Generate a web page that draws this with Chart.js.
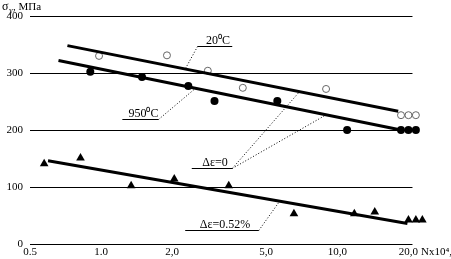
<!DOCTYPE html>
<html>
<head>
<meta charset="utf-8">
<script src="https://cdn.jsdelivr.net/npm/chart.js@4.4.0/dist/chart.umd.min.js"></script>
<style>
  html, body { margin: 0; padding: 0; background: #fff; }
  #wrap { width: 451px; height: 259px; }
</style>
</head>
<body>
<div id="wrap"><canvas id="grfk"></canvas></div>
<script>
// x axis ticks (log scale, N x 10^4)
const xTicks = [0.5, 1, 2, 5, 10, 20];
const xTickLabels = ['0.5', '1.0', '2,0', '5,0', '10,0', '20,0'];
const yTicks = [0, 100, 200, 300, 400];
const gridEndX = 20.8; // horizontal rules stop here, markers go a bit further

// 20 C, open circles
const n20 = [0.98, 1.9, 2.83, 3.98, 8.96, 18.6, 20, 21.5];
const s20 = [330, 331, 304, 274, 272, 226, 226, 226];
// 950 C, filled circles
const n950 = [0.9, 1.49, 2.34, 3.02, 5.57, 11.0, 18.6, 20, 21.5];
const s950 = [302, 293, 277, 251, 251, 200, 200, 200, 200];
// delta eps = 0.52 %, triangles
const nTri = [0.574, 0.818, 1.34, 2.04, 3.47, 6.55, 11.8, 14.4, 20, 21.5, 22.9];
const sTri = [141, 151, 102, 114, 102, 53, 53, 56, 42, 42, 42];

// fitted lines (end points)
const fit20X = [0.72, 18.1], fit20Y = [348, 233];
const fit950X = [0.66, 18.6], fit950Y = [322, 200];
const fitTriX = [0.596, 19.8], fitTriY = [146, 36];

// callouts: underline from x0 to x1 at value y, leaders to points on fitted lines
const callouts = [
    { text: '20⁰C', x0: 2.56, x1: 3.59, y: 348, to: [['20', 2.27]] },
    { text: '950⁰C', x0: 1.23, x1: 1.75, y: 219, to: [['950', 2.51]] },
    { text: 'Δε=0', x0: 2.42, x1: 3.59, y: 134, to: [['20', 6.92], ['950', 8.97]] },
    { text: 'Δε=0.52%', x0: 2.27, x1: 4.65, y: 24, to: [['tri', 5.70]] }
];

const fits = { '20': [fit20X, fit20Y], '950': [fit950X, fit950Y], 'tri': [fitTriX, fitTriY] };
function fitAt(name, x) {
    const [fx, fy] = fits[name];
    return fy[0] + (fy[1] - fy[0]) * Math.log(x / fx[0]) / Math.log(fx[1] / fx[0]);
}

const pts = (xs, ys) => xs.map((x, i) => ({ x: x, y: ys[i] }));
const FONT = 'Liberation Serif, Times New Roman, serif';

// horizontal rules, shorter than the chart area
const gridPlugin = {
    id: 'rules',
    beforeDatasetsDraw(chart) {
        const ctx = chart.ctx, xs = chart.scales.x, ys = chart.scales.y;
        const x0 = xs.left, x1 = xs.getPixelForValue(gridEndX);
        ctx.save();
        ctx.strokeStyle = '#000';
        ctx.lineWidth = 1;
        yTicks.forEach(v => {
            const py = Math.round(ys.getPixelForValue(v)) + 0.5;
            ctx.beginPath();
            ctx.moveTo(x0, py); ctx.lineTo(x1, py);
            ctx.stroke();
        });
        ctx.restore();
    }
};

const annPlugin = {
    id: 'ann',
    afterDatasetsDraw(chart) {
        const ctx = chart.ctx, xs = chart.scales.x, ys = chart.scales.y;
        ctx.save();
        ctx.fillStyle = '#000';
        ctx.strokeStyle = '#000';
        ctx.font = '12px ' + FONT;
        callouts.forEach(c => {
            const a = xs.getPixelForValue(c.x0), b = xs.getPixelForValue(c.x1);
            const py = Math.round(ys.getPixelForValue(c.y)) + 0.5;
            ctx.lineWidth = 1;
            ctx.setLineDash([]);
            ctx.beginPath();
            ctx.moveTo(a, py); ctx.lineTo(b, py);
            ctx.stroke();
            ctx.textAlign = 'center';
            ctx.textBaseline = 'alphabetic';
            ctx.fillText(c.text, (a + b) / 2 + 3, py - 3);
            ctx.setLineDash([1, 2]);
            c.to.forEach(t => {
                const tx = xs.getPixelForValue(t[1]);
                const ty = ys.getPixelForValue(fitAt(t[0], t[1]));
                const sx = c.to.length > 1 || t[1] > c.x1 ? b : a;
                ctx.beginPath();
                ctx.moveTo(sx, py); ctx.lineTo(tx, ty);
                ctx.stroke();
            });
        });
        ctx.setLineDash([]);
        // axis titles
        ctx.textAlign = 'left';
        ctx.textBaseline = 'alphabetic';
        ctx.font = '12px ' + FONT;
        ctx.fillText('σ', 2, 10);
        ctx.font = '8px ' + FONT;
        ctx.fillText('y', 9, 13);
        ctx.font = '11px ' + FONT;
        ctx.fillText(', МПа', 13, 10);
        ctx.fillText('Nx10⁴,', 421, 255);
        ctx.restore();
    }
};

new Chart(document.getElementById('grfk').getContext('2d'), {
    type: 'scatter',
    data: {
        datasets: [
            {
                label: '20',
                data: pts(fit20X, fit20Y),
                showLine: true, borderColor: '#000', borderWidth: 3, pointRadius: 0
            },
            {
                label: '950',
                data: pts(fit950X, fit950Y),
                showLine: true, borderColor: '#000', borderWidth: 3, pointRadius: 0
            },
            {
                label: 'tri',
                data: pts(fitTriX, fitTriY),
                showLine: true, borderColor: '#000', borderWidth: 3, pointRadius: 0
            },
            {
                label: '20 C',
                data: pts(n20, s20),
                pointStyle: 'circle', pointRadius: 3.5,
                backgroundColor: 'rgba(0,0,0,0)', borderColor: '#666', borderWidth: 1,
                clip: false
            },
            {
                label: '950 C',
                data: pts(n950, s950),
                pointStyle: 'circle', pointRadius: 4,
                backgroundColor: '#000', borderColor: '#000', borderWidth: 0,
                clip: false
            },
            {
                label: '0.52',
                data: pts(nTri, sTri),
                pointStyle: 'triangle', pointRadius: 5,
                backgroundColor: '#000', borderColor: '#000', borderWidth: 0,
                clip: false
            }
        ]
    },
    options: {
        responsive: true,
        maintainAspectRatio: false,
        animation: false,
        layout: { padding: { top: 16, right: 26, left: 0, bottom: 0 } },
        plugins: { legend: { display: false }, tooltip: { enabled: false } },
        scales: {
            x: {
                type: 'logarithmic',
                min: 0.5, max: 23.5,
                afterBuildTicks: s => { s.ticks = xTicks.map(v => ({ value: v })); },
                afterFit: s => { s.height = 15; },
                grid: { display: false, drawTicks: false, tickLength: 0 },
                border: { display: false },
                ticks: {
                    autoSkip: false, maxRotation: 0, padding: 2,
                    color: '#000', font: { family: FONT, size: 11 },
                    callback: v => xTickLabels[xTicks.indexOf(v)]
                }
            },
            y: {
                min: 0, max: 400,
                afterBuildTicks: s => { s.ticks = yTicks.map(v => ({ value: v })); },
                afterFit: s => { s.width = 30; },
                grid: { display: false, drawTicks: false, tickLength: 0 },
                border: { display: false },
                ticks: { padding: 7, color: '#000', font: { family: FONT, size: 11 } }
            }
        }
    },
    plugins: [gridPlugin, annPlugin]
});
</script>
</body>
</html>
